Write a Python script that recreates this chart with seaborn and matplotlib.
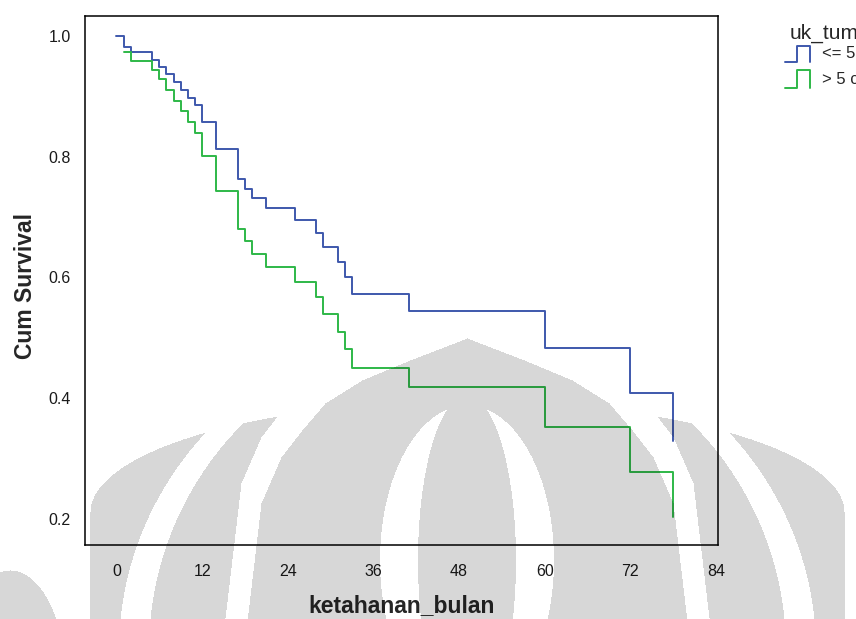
import numpy as np
import pandas as pd
import matplotlib
matplotlib.use("Agg")
import matplotlib.pyplot as plt
from matplotlib.lines import Line2D
import seaborn as sns

# Kaplan-Meier survival estimates (time in months, survival after each step)
months_small = [0, 1, 2, 5, 6, 7, 8, 9, 10, 11, 12, 14, 17, 18, 19, 21, 25,
                28, 29, 31, 32, 33, 41, 60, 72, 78]
surv_small = [1.0, 0.982, 0.973, 0.960, 0.949, 0.937, 0.924, 0.911, 0.898,
              0.885, 0.857, 0.813, 0.763, 0.747, 0.732, 0.715, 0.696, 0.673,
              0.650, 0.626, 0.601, 0.573, 0.544, 0.483, 0.409, 0.329]

months_large = [1, 2, 5, 6, 7, 8, 9, 10, 11, 12, 14, 17, 18, 19, 21, 25,
                28, 29, 31, 32, 33, 41, 60, 72, 78]
surv_large = [0.974, 0.959, 0.944, 0.928, 0.911, 0.893, 0.876, 0.857, 0.839,
              0.801, 0.743, 0.681, 0.660, 0.639, 0.617, 0.593, 0.567, 0.540,
              0.510, 0.481, 0.450, 0.418, 0.353, 0.278, 0.203]

group_labels = ["<= 5 cm", "> 5 cm"]
group_colors = ["#3E58AC", "#2EB848"]
legend_title = "uk_tumor"
x_ticks = [0, 12, 24, 36, 48, 60, 72, 84]
y_ticks = [0.2, 0.4, 0.6, 0.8, 1.0]

df = pd.concat([
    pd.DataFrame({"t": months_small, "S": surv_small, "grp": group_labels[0]}),
    pd.DataFrame({"t": months_large, "S": surv_large, "grp": group_labels[1]}),
], ignore_index=True)

sns.set_style("white")
plt.rcParams["font.family"] = ["Liberation Sans", "DejaVu Sans"]

W, H = 856, 619
fig = plt.figure(figsize=(W / 100, H / 100), dpi=100)
ax = fig.add_axes([84.8 / W, 1 - 545 / H, (718 - 84.8) / W, (545 - 16) / H])

sns.lineplot(data=df, x="t", y="S", hue="grp", palette=group_colors,
             hue_order=group_labels, estimator=None, sort=True,
             drawstyle="steps-post", linewidth=1.4, legend=False, ax=ax)

ax.set_xlim(-4.43, 84.28)
ax.set_ylim(0.157, 1.033)
ax.set_xticks(x_ticks)
ax.set_yticks(y_ticks)
ax.set_xticklabels([str(v) for v in x_ticks])
ax.set_yticklabels([f"{v:.1f}" for v in y_ticks])

for sp in ax.spines.values():
    sp.set_visible(True)
    sp.set_color("black")
    sp.set_linewidth(1.1)

ax.tick_params(axis="both", which="major", direction="out", length=8.5,
               width=1.1, color="black", labelsize=11.5, labelcolor="#1a1a1a")
ax.tick_params(axis="y", pad=1.5)
ax.tick_params(axis="x", pad=5)

ax.set_xlabel("ketahanan_bulan", fontsize=16.5, fontweight="bold")
ax.set_ylabel("Cum Survival", fontsize=16.5, fontweight="bold")
ax.xaxis.set_label_coords(0.5, -0.092)
ax.yaxis.set_label_coords(-0.076, 0.49)

# legend drawn at the right, outside the plotting frame
def px(x, y):
    return x / W, 1 - y / H

tx, ty = px(790, 39)
fig.text(tx, ty, legend_title, fontsize=15, va="baseline", ha="left")
glyph_rows = [(62, 46, 54), (88, 70, 79)]
for (bot, top, ymid), lab, col in zip(glyph_rows, group_labels, group_colors):
    xs = [785, 797, 797, 810, 810]
    ys = [bot, bot, top, top, bot]
    fx = [x / W for x in xs]
    fy = [1 - y / H for y in ys]
    fig.add_artist(Line2D(fx, fy, color=col, linewidth=1.4,
                          transform=fig.transFigure))
    lx, ly = px(822, ymid)
    fig.text(lx, ly, lab, fontsize=12, va="center", ha="left")

# faint grey emblem in the lower half of the page
yy, xx = np.mgrid[0:H, 0:W].astype(float)

def ell(cx, cy, a, b):
    return ((xx - cx) / a) ** 2 + ((yy - cy) / b) ** 2 <= 1.0

def onion(cx, top, d_tab, w_tab):
    d = yy - top
    w = np.interp(d, d_tab, w_tab)
    return (d >= 0) & (np.abs(xx - cx) <= w)

d_tab = [0, 22, 42, 65, 92, 119, 165, 300]
w_tab = np.array([0, 57, 105, 142, 165, 186, 206, 222])
dome = onion(467, 338, d_tab, w_tab)
dome_halo = onion(467, 318, d_tab, w_tab + 20)
outer = ell(467, 512, 377, 111) | ((yy >= 512) & (xx >= 90) & (xx <= 844))
outer_gap = ell(467, 650, 348.5, 330) & ~ell(467, 650, 318.5, 320)
lens_band = ell(466.5, 560, 87, 155) & ~ell(466.5, 560, 49, 165)
corner = ell(10, 680, 55, 110)

mask = (outer & ~outer_gap & ~dome_halo) | dome
mask &= ~lens_band
mask |= corner

rgba = np.zeros((H, W, 4))
rgba[..., 3] = 0.16 * mask
fig.figimage(rgba, xo=0, yo=0, origin="upper", zorder=10)

fig.savefig("out.png", dpi=100)
